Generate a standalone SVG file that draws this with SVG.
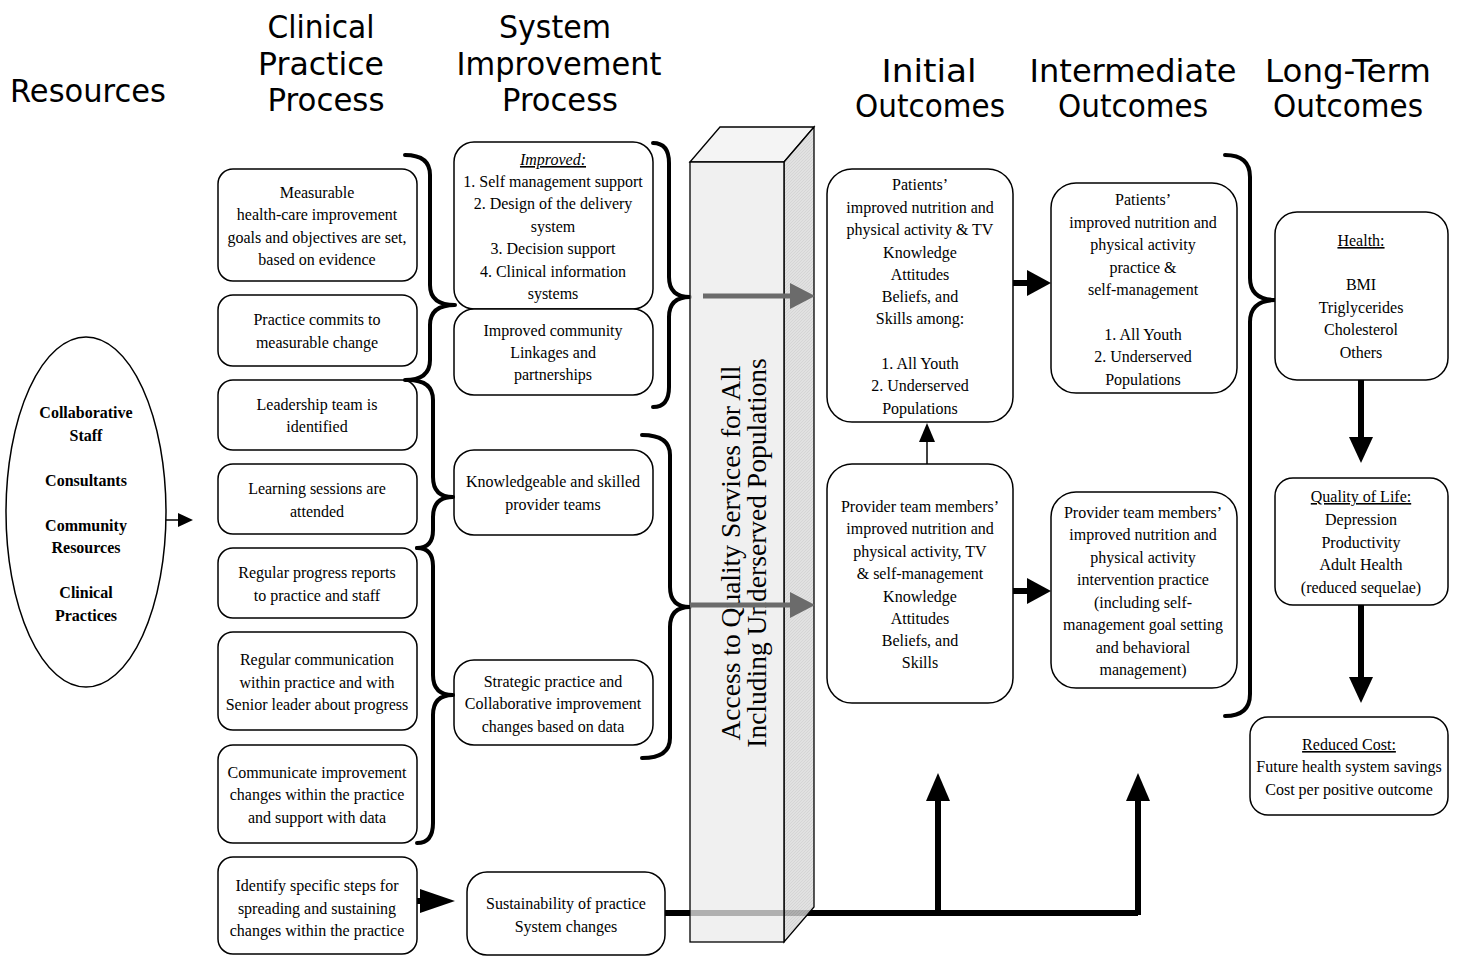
<svg xmlns="http://www.w3.org/2000/svg" width="1460" height="958" viewBox="0 0 1460 958">
  <style>
    .hd { font-family: "DejaVu Sans", "Liberation Sans", sans-serif; font-size: 32px; fill: #000; text-anchor: middle; }
    .t { font-family: "Liberation Serif", "Times New Roman", serif; font-size: 16px; fill: #000; text-anchor: middle; }
    .tb { font-family: "Liberation Serif", "Times New Roman", serif; font-size: 16px; font-weight: bold; fill: #000; text-anchor: middle; }
    .box { fill: #fff; stroke: #000; stroke-width: 1.5; }
    .brace { fill: none; stroke: #000; stroke-width: 4; stroke-linejoin: round; stroke-linecap: round; }
    .thick { stroke: #000; stroke-width: 6; fill: none; }
    .thin { stroke: #000; stroke-width: 1.5; fill: none; }
    .gray { stroke: #6b6b6b; stroke-width: 5; fill: none; }
    .u { text-decoration: underline; }
    .pt { font-family: "Liberation Serif", "Times New Roman", serif; font-size: 27.5px; fill: #000; text-anchor: middle; }
  </style>
  <defs>
    <pattern id="hatch" width="3" height="3" patternUnits="userSpaceOnUse">
      <rect width="3" height="3" fill="#dadada"/>
      <path d="M0,3 L3,0" stroke="#c8c8c8" stroke-width="0.8"/>
    </pattern>
  </defs>

  <!-- column headings -->
  <g id="headings">
    <text class="hd" x="88" y="102" textLength="156" lengthAdjust="spacingAndGlyphs">Resources</text>
    <text class="hd" x="321" y="38" textLength="107" lengthAdjust="spacingAndGlyphs">Clinical</text>
    <text class="hd" x="321" y="75" textLength="126" lengthAdjust="spacingAndGlyphs">Practice</text>
    <text class="hd" x="326" y="111" textLength="117" lengthAdjust="spacingAndGlyphs">Process</text>
    <text class="hd" x="555" y="38" textLength="112" lengthAdjust="spacingAndGlyphs">System</text>
    <text class="hd" x="559" y="75" textLength="205" lengthAdjust="spacingAndGlyphs">Improvement</text>
    <text class="hd" x="560" y="111" textLength="116" lengthAdjust="spacingAndGlyphs">Process</text>
    <text class="hd" x="929" y="82" textLength="95" lengthAdjust="spacingAndGlyphs">Initial</text>
    <text class="hd" x="930" y="117" textLength="150" lengthAdjust="spacingAndGlyphs">Outcomes</text>
    <text class="hd" x="1133" y="82" textLength="207" lengthAdjust="spacingAndGlyphs">Intermediate</text>
    <text class="hd" x="1133" y="117" textLength="150" lengthAdjust="spacingAndGlyphs">Outcomes</text>
    <text class="hd" x="1348" y="82" textLength="166" lengthAdjust="spacingAndGlyphs">Long-Term</text>
    <text class="hd" x="1348" y="117" textLength="150" lengthAdjust="spacingAndGlyphs">Outcomes</text>
  </g>

  <!-- resources -->
  <g id="resources">
    <ellipse cx="86" cy="512" rx="80" ry="175" class="box"/>
    <text class="tb" x="86" y="418">Collaborative</text>
    <text class="tb" x="86" y="441">Staff</text>
    <text class="tb" x="86" y="486">Consultants</text>
    <text class="tb" x="86" y="531">Community</text>
    <text class="tb" x="86" y="553">Resources</text>
    <text class="tb" x="86" y="598">Clinical</text>
    <text class="tb" x="86" y="621">Practices</text>
  </g>

  <!-- clinical practice process -->
  <g id="cp1">
    <rect x="218" y="169" width="199" height="112" rx="15" class="box"/>
    <text class="t" x="317" y="198">Measurable</text>
    <text class="t" x="317" y="220">health-care improvement</text>
    <text class="t" x="317" y="243">goals and objectives are set,</text>
    <text class="t" x="317" y="265">based on evidence</text>
  </g>
  <g id="cp2">
    <rect x="218" y="295" width="199" height="71" rx="15" class="box"/>
    <text class="t" x="317" y="325">Practice commits to</text>
    <text class="t" x="317" y="348">measurable change</text>
  </g>
  <g id="cp3">
    <rect x="218" y="380" width="199" height="70" rx="15" class="box"/>
    <text class="t" x="317" y="410">Leadership team is</text>
    <text class="t" x="317" y="432">identified</text>
  </g>
  <g id="cp4">
    <rect x="218" y="464" width="199" height="70" rx="15" class="box"/>
    <text class="t" x="317" y="494">Learning sessions are</text>
    <text class="t" x="317" y="517">attended</text>
  </g>
  <g id="cp5">
    <rect x="218" y="548" width="199" height="70" rx="15" class="box"/>
    <text class="t" x="317" y="578">Regular progress reports</text>
    <text class="t" x="317" y="601">to practice and staff</text>
  </g>
  <g id="cp6">
    <rect x="218" y="632" width="199" height="98" rx="15" class="box"/>
    <text class="t" x="317" y="665">Regular communication</text>
    <text class="t" x="317" y="688">within practice and with</text>
    <text class="t" x="317" y="710">Senior leader about progress</text>
  </g>
  <g id="cp7">
    <rect x="218" y="745" width="199" height="98" rx="15" class="box"/>
    <text class="t" x="317" y="778">Communicate improvement</text>
    <text class="t" x="317" y="800">changes within the practice</text>
    <text class="t" x="317" y="823">and support with data</text>
  </g>
  <g id="cp8">
    <rect x="218" y="857" width="199" height="97" rx="15" class="box"/>
    <text class="t" x="317" y="891">Identify specific steps for</text>
    <text class="t" x="317" y="914">spreading and sustaining</text>
    <text class="t" x="317" y="936">changes within the practice</text>
  </g>

  <!-- system improvement process -->
  <g id="si1">
    <rect x="454" y="142" width="199" height="167" rx="20" class="box"/>
    <text class="t u" x="553" y="165" font-style="italic">Improved:</text>
    <text class="t" x="553" y="187">1. Self management support</text>
    <text class="t" x="553" y="209">2. Design of the delivery</text>
    <text class="t" x="553" y="232">system</text>
    <text class="t" x="553" y="254">3. Decision support</text>
    <text class="t" x="553" y="277">4. Clinical information</text>
    <text class="t" x="553" y="299">systems</text>
  </g>
  <g id="si2">
    <rect x="454" y="309" width="199" height="86" rx="20" class="box"/>
    <text class="t" x="553" y="336">Improved community</text>
    <text class="t" x="553" y="358">Linkages and</text>
    <text class="t" x="553" y="380">partnerships</text>
  </g>
  <g id="si3">
    <rect x="454" y="450" width="199" height="85" rx="20" class="box"/>
    <text class="t" x="553" y="487">Knowledgeable and skilled</text>
    <text class="t" x="553" y="510">provider teams</text>
  </g>
  <g id="si4">
    <rect x="454" y="660" width="199" height="85" rx="20" class="box"/>
    <text class="t" x="553" y="687">Strategic practice and</text>
    <text class="t" x="553" y="709">Collaborative improvement</text>
    <text class="t" x="553" y="732">changes based on data</text>
  </g>
  <g id="si5">
    <rect x="467" y="872" width="198" height="83" rx="20" class="box"/>
    <text class="t" x="566" y="909">Sustainability of practice</text>
    <text class="t" x="566" y="932">System changes</text>
  </g>

  <!-- connectors: braces and arrows -->
  <g id="connectors">
    <path class="brace" d="M405,155 Q430,155 430,175 L430,285 Q430,305 455,305 Q430,305 430,325 L430,360 Q430,380 405,380"/>
    <path class="brace" d="M408,380 Q433,380 433,400 L433,477 Q433,497 453,497 Q433,497 433,517 L433,530 Q433,548 417,548"/>
    <path class="brace" d="M417,548 Q433,548 433,566 L433,675 Q433,695 453,695 Q433,695 433,715 L433,823 Q433,843 417,843"/>
    <path class="brace" d="M653,143 Q669,143 669,163 L669,277 Q669,297 690,297 Q669,297 669,317 L669,387 Q669,407 653,407"/>
    <path class="brace" d="M642,435 Q670,435 670,455 L670,587 Q670,607 690,607 Q670,607 670,627 L670,738 Q670,758 642,758"/>
    <path class="brace" d="M1225,155 Q1250,155 1250,177 L1250,278 Q1250,300 1276,300 Q1250,300 1250,322 L1250,694 Q1250,716 1225,716"/>

    <!-- resources to clinical practice -->
    <line class="thin" x1="166" y1="520" x2="180" y2="520"/>
    <polygon points="178,513 193,520 178,527"/>

    <!-- spreading steps to sustainability -->
    <line class="thick" x1="417" y1="901" x2="425" y2="901"/>
    <polygon points="420,889 455,901 420,913"/>

    <!-- sustainability feeds both outcome columns -->
    <polyline class="thick" points="665,913 1138,913" stroke-width="5"/>
    <line class="thick" x1="938" y1="915" x2="938" y2="798" stroke-width="5"/>
    <polygon points="926,801 938,773 950,801"/>
    <line class="thick" x1="1138" y1="915" x2="1138" y2="798" stroke-width="5"/>
    <polygon points="1126,801 1138,773 1150,801"/>

    <!-- provider team to patients -->
    <line class="thin" x1="927" y1="464" x2="927" y2="440"/>
    <polygon points="919,442 927,423 935,442"/>

    <!-- initial to intermediate -->
    <line class="thick" x1="1013" y1="283" x2="1029" y2="283" stroke-width="7"/>
    <polygon points="1027,270 1051,283 1027,296"/>
    <line class="thick" x1="1013" y1="591" x2="1029" y2="591" stroke-width="7"/>
    <polygon points="1027,578 1051,591 1027,604"/>

    <!-- long-term chain -->
    <line class="thick" x1="1361" y1="380" x2="1361" y2="440" stroke-width="7"/>
    <polygon points="1349,437 1361,463 1373,437"/>
    <line class="thick" x1="1361" y1="605" x2="1361" y2="680" stroke-width="7"/>
    <polygon points="1349,677 1361,703 1373,677"/>
  </g>

  <!-- access pillar -->
  <g id="pillar">
    <polygon points="690,162 720,127 814,127 784,162" fill="#f2f2f2" fill-opacity="0.85" stroke="#000" stroke-width="1.3"/>
    <polygon points="784,162 814,127 814,907 784,942" fill="url(#hatch)" fill-opacity="0.8" stroke="#000" stroke-width="1.3"/>
    <rect x="690" y="162" width="94" height="780" fill="#ebebeb" fill-opacity="0.75" stroke="#000" stroke-width="1.3"/>
    <g transform="rotate(-90 737 553)">
      <text class="pt" x="737" y="556">Access to Quality Services for All</text>
      <text class="pt" x="737" y="582">Including Underserved Populations</text>
    </g>
  </g>

  <!-- through-pillar arrows -->
  <g id="access-arrows">
    <line class="gray" x1="703" y1="296" x2="793" y2="296"/>
    <polygon points="790,283 815,296 790,309" fill="#6b6b6b"/>
    <line class="gray" x1="690" y1="605" x2="793" y2="605"/>
    <polygon points="790,592 815,605 790,618" fill="#6b6b6b"/>
  </g>

  <!-- initial outcomes -->
  <g id="io1">
    <rect x="827" y="169" width="186" height="253" rx="25" class="box"/>
    <text class="t" x="920" y="190">Patients’</text>
    <text class="t" x="920" y="213">improved nutrition and</text>
    <text class="t" x="920" y="235">physical activity &amp; TV</text>
    <text class="t" x="920" y="258">Knowledge</text>
    <text class="t" x="920" y="280">Attitudes</text>
    <text class="t" x="920" y="302">Beliefs, and</text>
    <text class="t" x="920" y="324">Skills among:</text>
    <text class="t" x="920" y="369">1. All Youth</text>
    <text class="t" x="920" y="391">2. Underserved</text>
    <text class="t" x="920" y="414">Populations</text>
  </g>
  <g id="io2">
    <rect x="827" y="464" width="186" height="239" rx="25" class="box"/>
    <text class="t" x="920" y="512">Provider team members’</text>
    <text class="t" x="920" y="534">improved nutrition and</text>
    <text class="t" x="920" y="557">physical activity, TV</text>
    <text class="t" x="920" y="579">&amp; self-management</text>
    <text class="t" x="920" y="602">Knowledge</text>
    <text class="t" x="920" y="624">Attitudes</text>
    <text class="t" x="920" y="646">Beliefs, and</text>
    <text class="t" x="920" y="668">Skills</text>
  </g>

  <!-- intermediate outcomes -->
  <g id="mo1">
    <rect x="1051" y="183" width="186" height="210" rx="25" class="box"/>
    <text class="t" x="1143" y="205">Patients’</text>
    <text class="t" x="1143" y="228">improved nutrition and</text>
    <text class="t" x="1143" y="250">physical activity</text>
    <text class="t" x="1143" y="273">practice &amp;</text>
    <text class="t" x="1143" y="295">self-management</text>
    <text class="t" x="1143" y="340">1. All Youth</text>
    <text class="t" x="1143" y="362">2. Underserved</text>
    <text class="t" x="1143" y="385">Populations</text>
  </g>
  <g id="mo2">
    <rect x="1051" y="492" width="186" height="196" rx="25" class="box"/>
    <text class="t" x="1143" y="518">Provider team members’</text>
    <text class="t" x="1143" y="540">improved nutrition and</text>
    <text class="t" x="1143" y="563">physical activity</text>
    <text class="t" x="1143" y="585">intervention practice</text>
    <text class="t" x="1143" y="608">(including self-</text>
    <text class="t" x="1143" y="630">management goal setting</text>
    <text class="t" x="1143" y="653">and behavioral</text>
    <text class="t" x="1143" y="675">management)</text>
  </g>

  <!-- long-term outcomes -->
  <g id="lt1">
    <rect x="1275" y="212" width="173" height="168" rx="22" class="box"/>
    <text class="t u" x="1361" y="246">Health:</text>
    <text class="t" x="1361" y="290">BMI</text>
    <text class="t" x="1361" y="313">Triglycerides</text>
    <text class="t" x="1361" y="335">Cholesterol</text>
    <text class="t" x="1361" y="358">Others</text>
  </g>
  <g id="lt2">
    <rect x="1275" y="478" width="173" height="127" rx="18" class="box"/>
    <text class="t u" x="1361" y="502">Quality of Life:</text>
    <text class="t" x="1361" y="525">Depression</text>
    <text class="t" x="1361" y="548">Productivity</text>
    <text class="t" x="1361" y="570">Adult Health</text>
    <text class="t" x="1361" y="593">(reduced sequelae)</text>
  </g>
  <g id="lt3">
    <rect x="1250" y="717" width="198" height="98" rx="18" class="box"/>
    <text class="t u" x="1349" y="750">Reduced Cost:</text>
    <text class="t" x="1349" y="772">Future health system savings</text>
    <text class="t" x="1349" y="795">Cost per positive outcome</text>
  </g>
</svg>
